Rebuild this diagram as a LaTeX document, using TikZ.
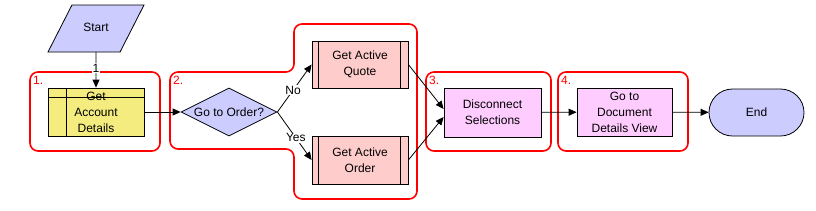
\documentclass[tikz,border=0pt]{standalone}
\usepackage{fontspec}
\setmainfont{Liberation Sans}
\usetikzlibrary{arrows.meta,positioning,shapes.geometric}
\definecolor{lavender}{HTML}{CCCCFF}
\definecolor{acctyellow}{HTML}{F5EC80}
\definecolor{taskpink}{HTML}{FFCCCC}
\definecolor{viewpink}{HTML}{FFCCFF}
\definecolor{grpred}{HTML}{FF0000}

\begin{document}
\begin{tikzpicture}[x=1pt, y=-1pt,
  font=\fontsize{12}{16}\selectfont,
  box/.style={draw, line width=0.8pt, minimum width=96pt, minimum height=48pt,
              align=center, inner sep=1pt},
  group/.style={draw=grpred, line width=1.6pt, rounded corners=8pt},
  grplabel/.style={text=grpred, anchor=north west, inner sep=0pt},
  arr/.style={-{Triangle[length=8pt, width=7pt]}, line width=0.8pt},
  lbl/.style={fill=white, inner sep=1pt}
]
\useasboundingbox (0,0) rectangle (816,210);

% groups
\draw[group] (30,72) rectangle (160,151);
\draw[group] (170,72) -- (294,72) -- (294,24) -- (417,24) -- (417,199)
  -- (294,199) -- (294,149) -- (170,149) -- cycle;
\draw[group] (426,72) rectangle (551,151);
\draw[group] (558,72) rectangle (688,151);
\node[grplabel] (g1) at (33,76)  {1.};
\node[grplabel] (g2) at (173,76) {2.};
\node[grplabel] (g3) at (429,76) {3.};
\node[grplabel] (g4) at (561,76) {4.};

% steps
\node[trapezium, trapezium left angle=63, trapezium right angle=117,
      trapezium stretches body, draw, line width=0.8pt, fill=lavender,
      text height=8pt, text depth=2pt, inner ysep=18.5pt, outer sep=0pt,
      minimum width=96pt] (start) at (96,28.5) {Start};
\node[box, fill=acctyellow] (account) at (96,112) {Get\\Account\\Details};
\draw[line width=0.8pt] ([xshift=19pt]account.north west) -- ([xshift=19pt]account.south west);
\draw[line width=0.8pt] ([yshift=-10pt]account.north west) -- ([yshift=-10pt]account.north east);
\node[diamond, aspect=2, draw, line width=0.8pt, fill=lavender, inner sep=0pt,
      minimum width=96pt, minimum height=48pt] (goorder) at (229,112) {Go to Order?};
\node[box, fill=taskpink, minimum height=47pt] (getquote) at (360,64.5) {Get Active\\Quote};
\node[box, fill=taskpink] (getorder) at (360,160) {Get Active\\Order};
\foreach \n in {getquote,getorder} {
  \draw[line width=0.8pt] ([xshift=7pt]\n.north west) -- ([xshift=7pt]\n.south west);
  \draw[line width=0.8pt] ([xshift=-8pt]\n.north east) -- ([xshift=-8pt]\n.south east);
}
\node[box, fill=viewpink, minimum width=97pt, minimum height=49pt] (disconnect) at (492.5,112.5) {Disconnect\\Selections};
\node[box, fill=viewpink, minimum width=95pt] (docview) at (624.5,112) {Go to\\Document\\Details View};
\node[box, fill=lavender, minimum width=95pt, minimum height=47pt,
      rounded corners=23.5pt] (end) at (756.5,112.5) {End};

% connectors
\draw[arr] (start) -- (account) node[lbl, pos=0.45] {1};
\draw[arr] (account) -- (goorder);
\draw[arr] (goorder.east) -- (getquote.west) node[lbl, pos=0.46] {No};
\draw[arr] (goorder.east) -- (getorder.west) node[lbl, pos=0.54] {Yes};
\draw[arr] (getquote.east) -- ([yshift=3.5pt]disconnect.west);
\draw[arr] (getorder.east) -- ([yshift=-4.5pt]disconnect.west);
\draw[arr] (disconnect) -- (docview);
\draw[arr] (docview) -- (end);
\end{tikzpicture}
\end{document}
